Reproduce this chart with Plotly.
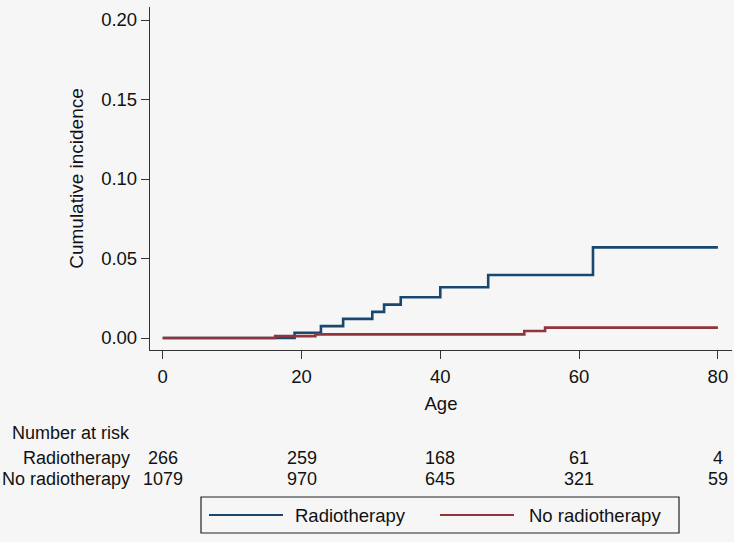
import plotly.graph_objects as go

# ---- data ----
rt_age = [0, 19.0, 22.8, 26.0, 30.2, 31.9, 34.3, 40.0, 46.9, 62.0, 80]
rt_inc = [0.0, 0.0033, 0.0075, 0.012, 0.0164, 0.021, 0.0256, 0.0319, 0.0396, 0.057, 0.057]

nort_age = [0, 16.2, 22.0, 52.1, 55.1, 80]
nort_inc = [0.0, 0.0012, 0.0023, 0.0044, 0.0065, 0.0065]

risk_times = [0, 20, 40, 60, 80]
risk_rt = [266, 259, 168, 61, 4]
risk_nort = [1079, 970, 645, 321, 59]

x_ticks = [0, 20, 40, 60, 80]
y_ticks = [0.0, 0.05, 0.10, 0.15, 0.20]

BLUE = "#1a476f"
RED = "#90353b"
BG = "#f6f6f6"
FONT = "Liberation Sans, Arial, Helvetica, sans-serif"
FS = 18
FS_TICK = 18.5
FS_TITLE = 19

W, H = 734, 542
ML, MR, MT, MB = 150, 2, 7, 192
PW = W - ML - MR
PH = H - MT - MB


def px_x(p):
    return (p - ML) / PW


def px_y(p):
    return (H - MB - p) / PH


fig = go.Figure()
fig.add_trace(go.Scatter(x=rt_age, y=rt_inc, mode="lines", line=dict(color=BLUE, width=2.6, shape="hv"),
                         name="Radiotherapy", showlegend=False))
fig.add_trace(go.Scatter(x=nort_age, y=nort_inc, mode="lines", line=dict(color=RED, width=2.6, shape="hv"),
                         name="No radiotherapy", showlegend=False))

annotations = []
# risk table
annotations.append(dict(text="Number at risk", xref="paper", yref="paper", x=px_x(10), y=px_y(433),
                        xanchor="left", yanchor="middle", showarrow=False))
annotations.append(dict(text="Radiotherapy", xref="paper", yref="paper", x=px_x(132), y=px_y(458),
                        xanchor="right", yanchor="middle", showarrow=False))
annotations.append(dict(text="No radiotherapy", xref="paper", yref="paper", x=px_x(132), y=px_y(479),
                        xanchor="right", yanchor="middle", showarrow=False))
for t, a, b in zip(risk_times, risk_rt, risk_nort):
    annotations.append(dict(text=str(a), xref="x", yref="paper", x=t, y=px_y(458),
                            xanchor="center", yanchor="middle", showarrow=False))
    annotations.append(dict(text=str(b), xref="x", yref="paper", x=t, y=px_y(479),
                            xanchor="center", yanchor="middle", showarrow=False))

# legend (drawn manually)
leg_y = px_y(515)
annotations.append(dict(text="Radiotherapy", xref="paper", yref="paper", x=px_x(293), y=leg_y,
                        xanchor="left", yanchor="middle", showarrow=False, font=dict(size=18.5)))
annotations.append(dict(text="No radiotherapy", xref="paper", yref="paper", x=px_x(527), y=leg_y,
                        xanchor="left", yanchor="middle", showarrow=False, font=dict(size=18.5)))

shapes = [
    dict(type="rect", xref="paper", yref="paper", x0=px_x(201), x1=px_x(679), y0=px_y(533), y1=px_y(497),
         line=dict(color="#222222", width=1.2), fillcolor="rgba(0,0,0,0)"),
    dict(type="line", xref="paper", yref="paper", x0=px_x(209), x1=px_x(283), y0=leg_y, y1=leg_y,
         line=dict(color=BLUE, width=2)),
    dict(type="line", xref="paper", yref="paper", x0=px_x(440), x1=px_x(514), y0=leg_y, y1=leg_y,
         line=dict(color=RED, width=2)),
]

fig.update_layout(
    width=W, height=H,
    margin=dict(l=ML, r=MR, t=MT, b=MB, pad=0),
    paper_bgcolor=BG, plot_bgcolor=BG,
    font=dict(family=FONT, size=FS, color="#111111"),
    showlegend=False,
    annotations=annotations,
    shapes=shapes,
)
fig.update_xaxes(
    range=[(150 - 162.7) / 6.94, (732 - 162.7) / 6.94],
    tickvals=x_ticks, ticks="outside", ticklen=8, tickcolor="#333333", tickwidth=1.3,
    tickfont=dict(size=FS_TICK), ticklabelstandoff=2,
    showline=True, linecolor="#333333", linewidth=1.3, showgrid=False, zeroline=False,
    title=dict(text="Age", standoff=10, font=dict(size=FS_TICK)),
)
fig.update_yaxes(
    range=[-12 / 1590, 331 / 1590],
    tickvals=y_ticks, tickformat=".2f", ticks="outside", ticklen=8, tickcolor="#333333", tickwidth=1.3,
    tickfont=dict(size=FS_TICK),
    showline=True, linecolor="#333333", linewidth=1.3, showgrid=False, zeroline=False,
    title=dict(text="Cumulative incidence", standoff=12, font=dict(size=FS_TITLE)),
)

fig.write_html(
    "out.html",
    config={"displayModeBar": False},
    post_script="document.body.style.margin='0';document.body.style.background='%s';"
                "document.documentElement.style.overflow='hidden';" % BG,
)
